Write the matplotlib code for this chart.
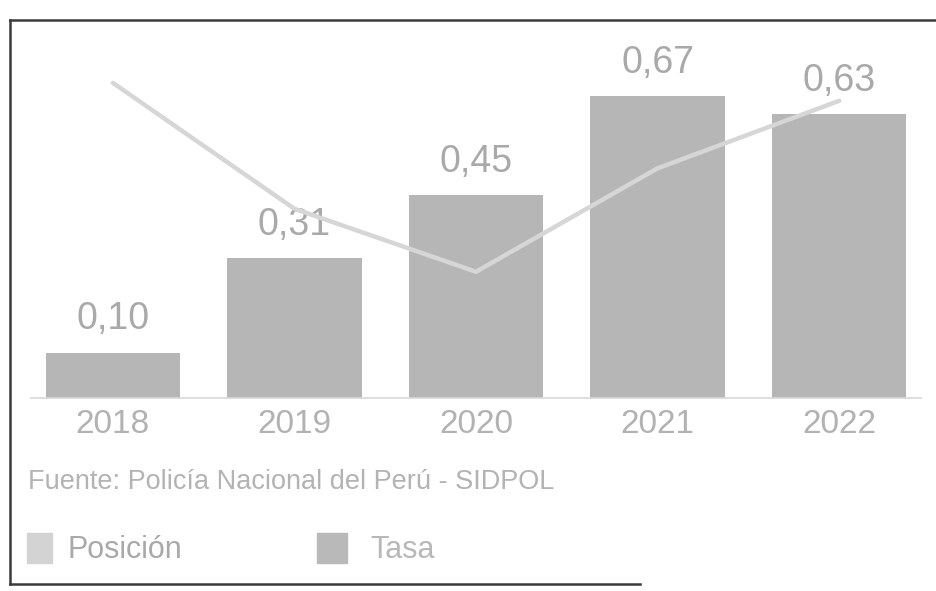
import matplotlib.pyplot as plt
from matplotlib.lines import Line2D
from matplotlib.patches import Rectangle

plt.rcParams['font.family'] = ['Liberation Sans', 'DejaVu Sans']

# Data
years = ['2018', '2019', '2020', '2021', '2022']
tasa = [0.10, 0.31, 0.45, 0.67, 0.63]
tasa_labels = ['0,10', '0,31', '0,45', '0,67', '0,63']
posicion = [0.70, 0.42, 0.28, 0.51, 0.66]

bar_color = '#b6b6b6'
line_color = '#d6d6d6'
text_color = '#a9a9a9'

fig = plt.figure(figsize=(9.37, 5.91), dpi=100)

ax = fig.add_axes([0.0235, 0.327, 0.969, 0.609])
x = range(len(years))
bars = ax.bar(x, tasa, width=0.74, color=bar_color, zorder=2)
ax.set_xlim(-0.5, 4.5)
ax.set_ylim(0, 0.8)

for xi, v, lab in zip(x, tasa, tasa_labels):
    ax.annotate(lab, (xi, v), xytext=(0, 11), textcoords='offset points',
                ha='center', va='bottom', fontsize=27, color=text_color)

ax.set_xticks(list(x))
ax.set_xticklabels(years, fontsize=24, color='#b2b2b2')
ax.tick_params(axis='x', length=0, pad=8)
ax.set_yticks([])
for s in ['top', 'right', 'left']:
    ax.spines[s].set_visible(False)
ax.spines['bottom'].set_color('#d8d8d8')
ax.spines['bottom'].set_linewidth(1.2)
ax.spines['bottom'].set_bounds(-0.45, 4.45)
ax.patch.set_alpha(0)

# Posición on a hidden secondary axis
ax2 = ax.twinx()
ax2.plot(list(x), posicion, color=line_color, lw=3.2, zorder=3,
         solid_capstyle='round', solid_joinstyle='round')
ax2.set_ylim(0, 0.8)
ax2.set_yticks([])
for s in ax2.spines.values():
    s.set_visible(False)

# Source note
fig.text(28 / 937, 1 - 482 / 591, 'Fuente: Policía Nacional del Perú - SIDPOL',
         fontsize=19.5, color='#b3b3b3', ha='left', va='center')

# Legend drawn by hand to match the layout
fig.patches.append(Rectangle((27 / 937, 1 - 563 / 591), 25 / 937, 30 / 591,
                             transform=fig.transFigure, color='#d3d3d3'))
fig.text(68 / 937, 1 - 550 / 591, 'Posición', fontsize=22, color=text_color,
         ha='left', va='center')
fig.patches.append(Rectangle((317 / 937, 1 - 563 / 591), 30 / 937, 30 / 591,
                             transform=fig.transFigure, color='#b9b9b9'))
fig.text(370 / 937, 1 - 550 / 591, 'Tasa', fontsize=22, color='#b8b8b8',
         ha='left', va='center')

# Frame around the chart (right side is cut off in the scan)
frame = dict(transform=fig.transFigure, color='#3a3a3a', lw=1.8)
fig.add_artist(Line2D([10 / 937, 10 / 937], [1 - 20 / 591, 1 - 584 / 591], **frame))
fig.add_artist(Line2D([10 / 937, 1.0], [1 - 20 / 591, 1 - 20 / 591], **frame))
fig.add_artist(Line2D([10 / 937, 640 / 937], [1 - 584 / 591, 1 - 584 / 591], **frame))

fig.savefig('out.png', dpi=100)
